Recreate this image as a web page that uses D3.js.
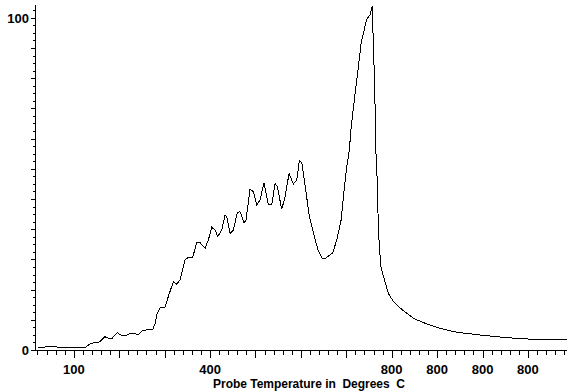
<!DOCTYPE html>
<html><head><meta charset="utf-8">
<script src="https://cdn.jsdelivr.net/npm/d3@7"></script>
<style>body{margin:0;background:#fff}svg{display:block}</style>
</head><body>
<script>
// sample index (1 unit = 1 minor tick) and signal (0-100 scale)
const sampleIdx = [0.0,1.56,2.48,5.23,5.78,6.33,6.77,7.43,7.80,8.17,8.79,9.27,9.64,10.19,10.63,11.10,11.51,12.20,12.69,12.94,13.13,13.52,14.04,14.52,14.96,15.33,15.69,16.24,16.61,17.09,17.53,17.90,18.45,18.81,19.19,19.55,19.85,20.29,20.65,20.83,21.20,21.56,22.00,22.30,22.74,22.96,23.40,23.77,24.14,24.50,24.94,25.42,25.79,26.16,26.41,26.89,27.26,27.70,28.17,28.55,28.83,29.10,29.46,29.93,30.48,30.93,31.37,31.66,32.51,32.95,33.43,33.68,34.05,34.34,34.49,34.71,34.97,35.33,35.63,35.88,36.18,36.32,36.62,36.87,36.92,37.06,37.17,37.25,37.42,37.53,37.80,38.08,38.63,39.19,39.74,40.66,41.39,42.86,44.33,46.17,48.73,51.67,54.60,58.28];
const signal = [0.81,0.99,0.84,0.75,1.81,2.32,2.32,4.0,3.52,3.40,5.21,4.30,4.21,5.03,5.03,4.52,5.72,6.23,6.23,7.83,10.54,12.85,12.94,17.07,20.56,19.78,21.07,27.09,27.90,27.90,32.30,32.30,30.61,33.11,36.94,36.12,34.11,36.12,40.64,40.13,35.13,36.12,41.33,41.63,38.32,39.13,48.37,47.65,43.65,45.15,50.36,43.65,43.65,50.18,49.16,42.35,46.15,53.19,49.97,51.17,56.98,56.38,49.67,40.13,34.11,29.80,27.39,27.54,29.29,33.11,39.13,46.15,55.18,60.20,65.71,71.25,77.27,85.28,92.32,95.33,98.83,99.85,100.84,103.55,97.32,85.28,73.24,60.20,50.18,36.12,25.08,22.28,17.07,14.54,13.03,11.05,9.54,7.83,6.53,5.33,4.52,3.70,3.22,3.01];

const xMinorTicks = d3.range(0, 59);
const xMajorTicks = [4, 9, 14, 19, 24, 29, 34, 39, 44, 49, 54];
const xLabelTicks = [4, 19, 39, 44, 49, 54];
const xLabelText = ["100", "400", "800", "800", "800", "800"];
const yMajorTicks = d3.range(0, 12).map(i => i * 100 / 11);
const yMinorTicks = d3.range(0, 46).map(i => i * 100 / 44);
const yLabelValues = [0, 100];
const yLabelText = ["0", "100"];
const xTitle = "Probe Temperature in  Degrees  C";

const W = 567, H = 392;
const svg = d3.select("body").append("svg").attr("width", W).attr("height", H);
const x = d3.scaleLinear().domain([-0.275, 58.3]).range([35, 567]);
const y = d3.scaleLinear().domain([0, 100]).range([350, 17.8]);
const axisLeftX = 35, axisBottomY = 350;

const g = svg.append("g").attr("shape-rendering", "crispEdges").attr("stroke", "#000");
// axis lines
g.append("line").attr("x1", axisLeftX + 0.5).attr("x2", axisLeftX + 0.5).attr("y1", y(103.9)).attr("y2", axisBottomY + 1);
g.append("line").attr("x1", axisLeftX).attr("x2", W).attr("y1", axisBottomY + 0.5).attr("y2", axisBottomY + 0.5);

// x ticks
g.selectAll(".xmin").data(xMinorTicks).join("line")
  .attr("x1", d => Math.round(x(d)) + 0.5).attr("x2", d => Math.round(x(d)) + 0.5)
  .attr("y1", axisBottomY).attr("y2", axisBottomY + 5);
g.selectAll(".xmaj").data(xMajorTicks).join("line")
  .attr("x1", d => Math.round(x(d)) + 0.5).attr("x2", d => Math.round(x(d)) + 0.5)
  .attr("y1", axisBottomY).attr("y2", axisBottomY + 8);
// y ticks
g.selectAll(".ymin").data(yMinorTicks.filter(v => v <= 103)).join("line")
  .attr("x1", axisLeftX - 2).attr("x2", axisLeftX)
  .attr("y1", d => Math.round(y(d)) + 0.5).attr("y2", d => Math.round(y(d)) + 0.5);
g.selectAll(".ymaj").data(yMajorTicks).join("line")
  .attr("x1", axisLeftX - 4).attr("x2", axisLeftX)
  .attr("y1", d => Math.round(y(d)) + 0.5).attr("y2", d => Math.round(y(d)) + 0.5);

const font = "'Liberation Sans', Arial, sans-serif";
svg.selectAll(".xl").data(xLabelTicks).join("text")
  .attr("x", d => x(d)).attr("y", 374).attr("text-anchor", "middle")
  .attr("font-family", font).attr("font-weight", "bold").attr("font-size", 13)
  .text((d, i) => xLabelText[i]);
svg.selectAll(".yl").data(yLabelValues).join("text")
  .attr("x", 29).attr("y", d => y(d) + 5).attr("text-anchor", "end")
  .attr("font-family", font).attr("font-weight", "bold").attr("font-size", 13)
  .text((d, i) => yLabelText[i]);
svg.append("text").attr("x", 213).attr("y", 387.5)
  .attr("font-family", font).attr("font-weight", "bold").attr("font-size", 12)
  .attr("textLength", 192).attr("lengthAdjust", "spacing")
  .attr("xml:space", "preserve").style("white-space", "pre")
  .text(xTitle);

const line = d3.line().x((d, i) => x(sampleIdx[i])).y(d => y(d));
svg.append("path").datum(signal).attr("d", line)
  .attr("fill", "none").attr("stroke", "#000").attr("stroke-width", 1)
  .attr("shape-rendering", "crispEdges");
</script>
</body></html>
